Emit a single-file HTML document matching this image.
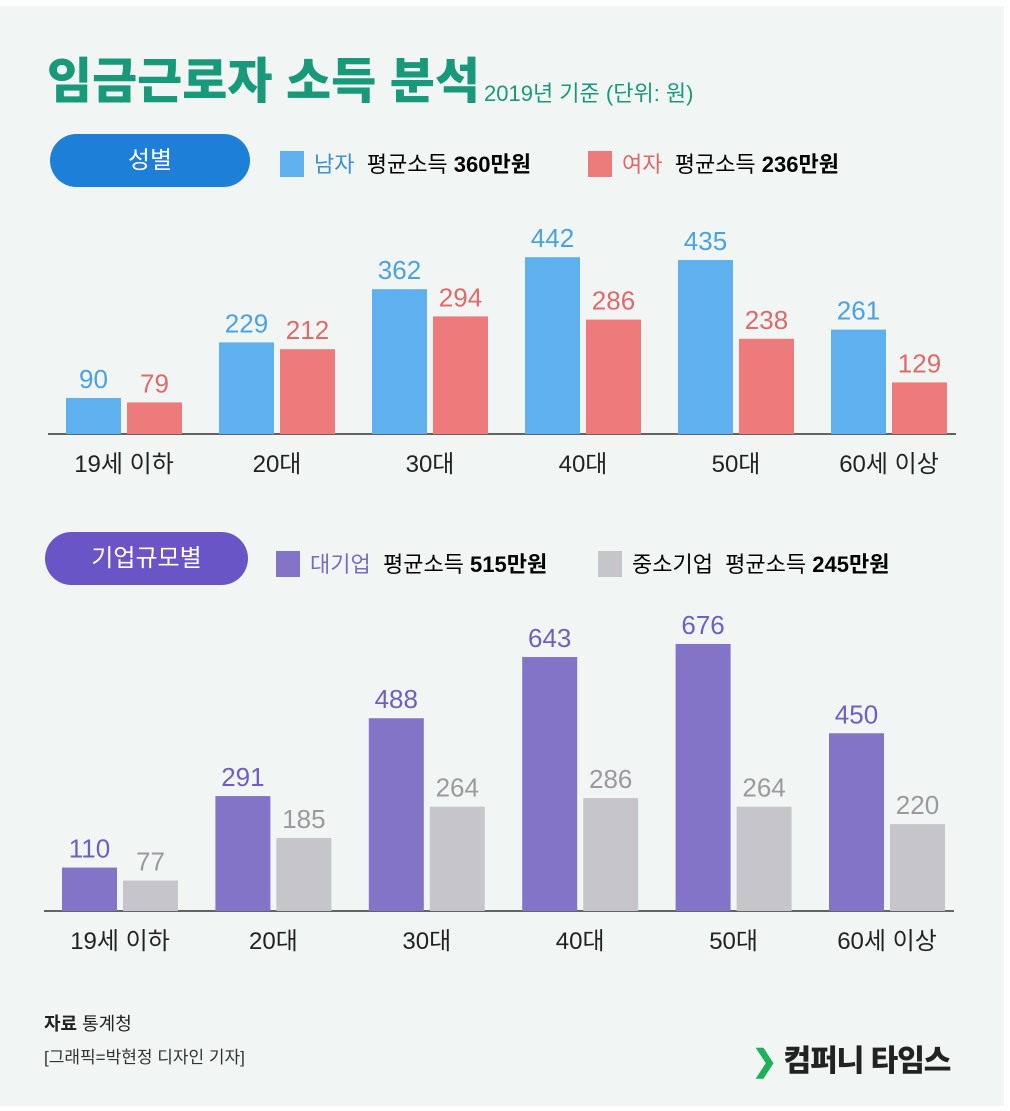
<!DOCTYPE html>
<html><head><meta charset="utf-8">
<style>
html,body{margin:0;padding:0;background:#fff;}
#wrap{position:relative;width:1010px;height:1111px;background:#fff;overflow:hidden;font-family:"Liberation Sans","Noto Sans CJK KR",sans-serif;}
#bg{position:absolute;left:0;top:6px;width:1004px;height:1100px;background:#f1f6f4;}
.t{position:absolute;white-space:nowrap;}
</style></head><body>
<div id="wrap">
<div id="bg"></div>
<div class="t" style="left:47px;top:42px;font-size:49px;font-weight:900;color:#17997a;letter-spacing:0px;">임금근로자 소득 분석</div>
<div class="t" style="left:484px;top:76px;font-size:22px;color:#17997a;">2019년 기준 (단위: 원)</div>

<div class="t" style="left:50px;top:134px;width:200px;height:53px;border-radius:27px;background:#1e7fd9;color:#fff;font-size:24px;line-height:53px;text-align:center;">성별</div>
<div class="t" style="left:280px;top:147px;font-size:22px;"><span style="display:inline-block;width:24px;height:26px;background:#5fb0ee;vertical-align:-5px;margin-right:10px;"></span><span style="color:#3d8fd0">남자</span>&nbsp; 평균소득 <b>360만원</b></div>
<div class="t" style="left:588px;top:147px;font-size:22px;"><span style="display:inline-block;width:24px;height:26px;background:#ee7b7b;vertical-align:-5px;margin-right:10px;"></span><span style="color:#e06565">여자</span>&nbsp; 평균소득 <b>236만원</b></div>

<div class="t" style="left:45px;top:532px;width:203px;height:53px;border-radius:27px;background:#6a55c6;color:#fff;font-size:24px;line-height:53px;text-align:center;">기업규모별</div>
<div class="t" style="left:276px;top:547px;font-size:22px;"><span style="display:inline-block;width:24px;height:26px;background:#8474c8;vertical-align:-5px;margin-right:10px;"></span><span style="color:#7a6bc2">대기업</span>&nbsp; 평균소득 <b>515만원</b></div>
<div class="t" style="left:598px;top:547px;font-size:22px;"><span style="display:inline-block;width:24px;height:26px;background:#c6c6ca;vertical-align:-5px;margin-right:10px;"></span>중소기업&nbsp; 평균소득 <b>245만원</b></div>

<svg id="chart" width="1010" height="1111" style="position:absolute;left:0;top:0;"></svg>

<div class="t" style="left:44px;top:1010px;font-size:18px;color:#222;"><b>자료</b> 통계청</div>
<div class="t" style="left:44px;top:1043px;font-size:17px;color:#333;">[그래픽=박현정 디자인 기자]</div>
<div class="t" style="left:752px;top:1036px;font-size:30px;font-weight:900;color:#222;letter-spacing:-1px;"><span style="color:#1fb05a">❯</span> 컴퍼니 타임스</div>
</div>
<script>
const categories=["19세 이하","20대","30대","40대","50대","60세 이상"];
const maleValues=[90,229,362,442,435,261];
const femaleValues=[79,212,294,286,238,129];
const largeValues=[110,291,488,643,676,450];
const smallValues=[77,185,264,286,264,220];
const svg=document.getElementById('chart');
const NS='http://www.w3.org/2000/svg';
function mk(tag,attrs){const e=document.createElementNS(NS,tag);for(const k in attrs)e.setAttribute(k,attrs[k]);svg.appendChild(e);return e;}
function drawChart(cfg){
  const y=v=>cfg.base-v*cfg.scale;
  const xg=i=>cfg.x0+i*cfg.step;
  const ax=mk('line',{x1:cfg.x0-18,x2:cfg.x0+5*cfg.step+125,y1:cfg.base,y2:cfg.base,stroke:'#333','stroke-width':1.5});
  
  
  categories.forEach((c,i)=>{
    [[cfg.a,cfg.ca,cfg.ta,0],[cfg.b,cfg.cb,cfg.tb,61]].forEach(([vals,col,tc,off],s)=>{
      const v=vals[i],x=xg(i)+off;
      const r=mk('rect',{x:x,y:y(v),width:55,height:cfg.base-y(v),fill:col});
      
      
      const t=mk('text',{x:x+27.5,y:y(v)-10,'text-anchor':'middle','font-size':26,fill:tc,'font-family':'Liberation Sans, Noto Sans CJK KR, sans-serif'});
      t.textContent=v;
      
      
    });
    const l=mk('text',{x:xg(i)+58,y:cfg.base+38,'text-anchor':'middle','font-size':24,fill:'#222','font-family':'Liberation Sans, Noto Sans CJK KR, sans-serif'});
    l.textContent=c;
    
    
  });
}
drawChart({name:'gender',x0:66,step:153,base:434,scale:0.40,a:maleValues,b:femaleValues,ca:'#5fb0ee',cb:'#ee7b7b',ta:'#4aa2e4',tb:'#e06a6a'});
drawChart({name:'company',x0:62,step:153.4,base:911,scale:0.395,a:largeValues,b:smallValues,ca:'#8474c8',cb:'#c6c6ca',ta:'#6f5fc0',tb:'#9a9a9e'});
</script>
</body></html>
